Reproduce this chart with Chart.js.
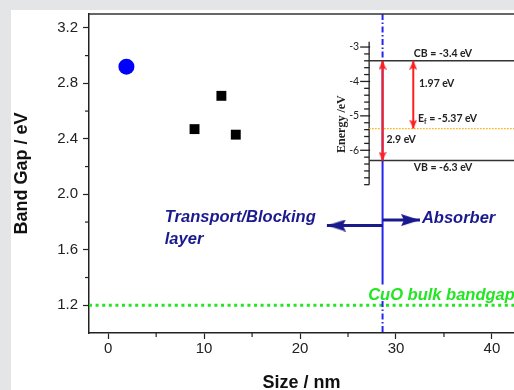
<!DOCTYPE html>
<html>
<head>
<meta charset="utf-8">
<script src="https://cdn.jsdelivr.net/npm/chart.js@4.4.1/dist/chart.umd.min.js"></script>
<style>
html, body { margin: 0; padding: 0; background: #e4e5e7; }
#wrap { position: absolute; left: 11px; top: 10px; width: 503px; height: 380px; background: #fff; }
</style>
</head>
<body>
<div id="wrap"><canvas id="chart" width="503" height="380"></canvas></div>
<script>
//Axis ranges and ticks.
const xRange = [-2, 42.3];
const yRange = [1.0, 3.3];
const eRange = [-11.31, -2.04];//energy scale of the inset, shares the plot height
const xTicks = [0, 10, 20, 30, 40];
const xMinor = [5, 15, 25, 35];
const yTicks = [1.2, 1.6, 2.0, 2.4, 2.8, 3.2];
const yMinor = [1.4, 1.8, 2.2, 2.6, 3.0];

//Measured points: thin film (blue circle) and nanoparticles (black squares).
const filmSize = [1.9];
const filmGap = [2.92];
const particleSize = [9.0, 11.8, 13.3];
const particleGap = [2.47, 2.71, 2.43];

//Bulk band gap and the size boundary between the two regimes.
const bulkGap = 1.2;
const boundarySize = 28.6;
const boundaryTopDash = [3.3, 2.96];
const boundarySolid = [2.96, 1.35];
const boundaryLowDash = [1.23, 1.0];

//Inset band diagram.
const insetAxisX = 27.2;
const insetAxisSpan = [-2.85, -7.0];
const energyTicks = [-3, -4, -5, -6];
const energyMinor = [-3.2, -3.4, -3.6, -3.8, -4.2, -4.4, -4.6, -4.8, -5.2, -5.4, -5.6, -5.8, -6.2, -6.4, -6.6, -6.8, -7.0];
const levelNames = ['CB', 'Ef', 'VB'];
const levelEnergy = [-3.4, -5.37, -6.3];
const gapArrowX = [boundarySize, 31.8];//2.9 eV arrow (CB-VB) and 1.97 eV arrow (CB-Ef)
const gapLabels = ['2.9 eV', '1.97 eV'];

//Regime arrows.
const leftArrowY = 1.775, leftArrowTip = 22.8;
const rightArrowY = 1.814, rightArrowTip = 32.5;

const navy = '#1a1a8e';
const sans = '"Liberation Sans", Arial, sans-serif';
const insetFont = 'Lato, "Liberation Sans", sans-serif';

//Arrow head drawn to a small canvas. The canvas is twice the head length so its centre is the tip, pointing right.
function makeHead(len, half, notch, color) {
    const c = document.createElement('canvas');
    c.width = len * 2;
    c.height = half * 2;
    const g = c.getContext('2d');
    g.fillStyle = color;
    g.beginPath();
    g.moveTo(len, half);
    g.lineTo(0, 0);
    g.lineTo(notch, half);
    g.lineTo(0, half * 2);
    g.closePath();
    g.fill();
    return c;
}
const navyHead = makeHead(19, 6, 3, navy);
const redHead = makeHead(9, 4, 2, '#ff1e1e');

function seg(x0, y0, x1, y1) { return [{x: x0, y: y0}, {x: x1, y: y1}]; }

//Text placed in data coordinates.
const noteFont = 'italic bold 16.5px ' + sans;
const notes = [
    {text: 'Transport/Blocking', x: 5.9, y: 1.833, axis: 'y', font: noteFont, color: navy},
    {text: 'layer', x: 5.9, y: 1.675, axis: 'y', font: noteFont, color: navy},
    {text: 'Absorber', x: 32.7, y: 1.826, axis: 'y', font: noteFont, color: navy},
    {text: 'CuO bulk bandgap', x: 27.1, y: 1.272, axis: 'y', font: noteFont, color: '#22e622'},
    {text: levelNames[0] + ' = ' + levelEnergy[0] + ' eV', x: 34.9, y: -3.2, axis: 'yE', font: 'bold 10.5px ' + insetFont, color: '#222', align: 'center'},
    {text: levelNames[2] + ' = ' + levelEnergy[2] + ' eV', x: 34.9, y: -6.49, axis: 'yE', font: 'bold 10.5px ' + insetFont, color: '#222', align: 'center'},
    {text: gapLabels[1], x: 32.4, y: -4.05, axis: 'yE', font: 'bold 10.5px ' + insetFont, color: '#222'},
    {text: gapLabels[0], x: 29.0, y: -5.7, axis: 'yE', font: 'bold 10.5px ' + insetFont, color: '#222'},
    {text: 'E', sub: 'f', rest: ' = ' + levelEnergy[1] + ' eV', x: 32.3, y: -5.09, axis: 'yE', font: 'bold 10.5px ' + insetFont, color: '#222'}
];

//Plugin for the frame, minor ticks, inset axis ticks and all the text.
const decorPlugin = {
    id: 'decor',
    afterDraw(chart) {
        const {ctx, chartArea: a, scales} = chart;
        const x = scales.x, y = scales.y, yE = scales.yE;
        function line(x0, y0, x1, y1) { ctx.beginPath(); ctx.moveTo(x0, y0); ctx.lineTo(x1, y1); ctx.stroke(); }
        ctx.save();
        ctx.strokeStyle = '#333';
        ctx.lineWidth = 1.5;
        line(a.left, a.top, a.right, a.top);

        ctx.strokeStyle = '#222';
        ctx.lineWidth = 1.2;
        xMinor.forEach(v => { const p = x.getPixelForValue(v); line(p, a.bottom, p, a.bottom + 4); });
        yMinor.forEach(v => { const p = y.getPixelForValue(v); line(a.left - 4, p, a.left, p); });

        //inset energy axis ticks and labels
        const ix = x.getPixelForValue(insetAxisX);
        ctx.lineWidth = 1.3;
        energyTicks.forEach(v => { const p = yE.getPixelForValue(v); line(ix - 9, p, ix + 1, p); });
        energyMinor.forEach(v => { const p = yE.getPixelForValue(v); line(ix - 5, p, ix, p); });
        ctx.fillStyle = '#222';
        ctx.font = '10.5px ' + insetFont;
        ctx.textAlign = 'right';
        ctx.textBaseline = 'middle';
        energyTicks.forEach(v => ctx.fillText(String(v), ix - 10, yE.getPixelForValue(v)));

        ctx.save();
        ctx.translate(x.getPixelForValue(24.4), yE.getPixelForValue(-5.24));
        ctx.rotate(-Math.PI / 2);
        ctx.textAlign = 'center';
        ctx.font = 'bold 12px "Liberation Serif", serif';
        ctx.fillText('Energy /eV', 0, 0);
        ctx.restore();

        notes.forEach(n => {
            const px = x.getPixelForValue(n.x);
            const py = scales[n.axis].getPixelForValue(n.y);
            ctx.font = n.font;
            ctx.fillStyle = n.color;
            ctx.textAlign = n.align || 'left';
            ctx.textBaseline = 'middle';
            if (n.sub) {
                ctx.textAlign = 'left';
                ctx.fillText(n.text, px, py);
                let cx = px + ctx.measureText(n.text).width;
                ctx.font = 'bold 7px ' + insetFont;
                ctx.fillText(n.sub, cx, py + 3);
                cx += ctx.measureText(n.sub).width;
                ctx.font = n.font;
                ctx.fillText(n.rest, cx, py);
            } else {
                ctx.fillText(n.text, px, py);
            }
        });
        ctx.restore();
    }
};

const ctx = document.getElementById('chart').getContext('2d');
const chart = new Chart(ctx, {
    type: 'scatter',
    data: {
        datasets: [
            {data: filmSize.map((s, i) => ({x: s, y: filmGap[i]})), pointStyle: 'circle', pointRadius: 8,
                backgroundColor: '#0000ff', borderColor: '#0000ff', borderWidth: 0, order: 1},
            {data: particleSize.map((s, i) => ({x: s, y: particleGap[i]})), pointStyle: 'rect', pointRadius: 7,
                backgroundColor: '#000', borderColor: '#000', borderWidth: 0, order: 1},
            //regime arrows
            {data: seg(boundarySize, leftArrowY, leftArrowTip, leftArrowY), showLine: true, borderColor: navy, borderWidth: 3,
                pointStyle: c => c.dataIndex === 1 ? navyHead : 'circle', pointRadius: c => c.dataIndex === 1 ? 3 : 0, pointRotation: 180, order: 2},
            {data: seg(boundarySize, rightArrowY, rightArrowTip, rightArrowY), showLine: true, borderColor: navy, borderWidth: 3,
                pointStyle: c => c.dataIndex === 1 ? navyHead : 'circle', pointRadius: c => c.dataIndex === 1 ? 3 : 0, pointRotation: 0, order: 2},
            //gap arrows of the inset
            {data: seg(gapArrowX[0], levelEnergy[0], gapArrowX[0], levelEnergy[2]), yAxisID: 'yE', showLine: true,
                borderColor: '#ff1e1e', borderWidth: 2, pointStyle: redHead, pointRadius: 3, pointRotation: [-90, 90], order: 3},
            {data: seg(gapArrowX[1], levelEnergy[0], gapArrowX[1], levelEnergy[1]), yAxisID: 'yE', showLine: true,
                borderColor: '#ff1e1e', borderWidth: 2, pointStyle: redHead, pointRadius: 3, pointRotation: [-90, 90], order: 3},
            //band levels
            {data: seg(insetAxisX, levelEnergy[0], xRange[1], levelEnergy[0]), yAxisID: 'yE', showLine: true,
                borderColor: '#333', borderWidth: 1.5, pointRadius: 0, order: 4},
            {data: seg(insetAxisX, levelEnergy[2], xRange[1], levelEnergy[2]), yAxisID: 'yE', showLine: true,
                borderColor: '#333', borderWidth: 1.5, pointRadius: 0, order: 4},
            {data: seg(insetAxisX, levelEnergy[1], xRange[1], levelEnergy[1]), yAxisID: 'yE', showLine: true,
                borderColor: '#ffaa00', borderWidth: 1.3, borderDash: [1.5, 1.5], pointRadius: 0, order: 4},
            {data: seg(insetAxisX, insetAxisSpan[0], insetAxisX, insetAxisSpan[1]), yAxisID: 'yE', showLine: true,
                borderColor: '#222', borderWidth: 1.3, pointRadius: 0, order: 4},
            //size boundary
            {data: seg(boundarySize, boundaryTopDash[0], boundarySize, boundaryTopDash[1]), showLine: true,
                borderColor: '#2525f0', borderWidth: 2, borderDash: [6, 2.5, 1.5, 2.5], pointRadius: 0, order: 5},
            {data: seg(boundarySize, boundarySolid[0], boundarySize, boundarySolid[1]), showLine: true,
                borderColor: '#2525f0', borderWidth: 2, pointRadius: 0, order: 5},
            {data: seg(boundarySize, boundaryLowDash[0], boundarySize, boundaryLowDash[1]), showLine: true,
                borderColor: '#2525f0', borderWidth: 2, borderDash: [6, 2.5, 1.5, 2.5], pointRadius: 0, order: 5},
            //bulk band gap
            {data: seg(xRange[0], bulkGap, xRange[1], bulkGap), showLine: true,
                borderColor: '#22e622', borderWidth: 3, borderDash: [3, 3.6], pointRadius: 0, order: 6}
        ]
    },
    options: {
        responsive: false,
        animation: false,
        layout: {autoPadding: false, padding: {top: 4, right: 0, left: 0, bottom: 0}},
        plugins: {legend: {display: false}, tooltip: {enabled: false}},
        events: [],
        scales: {
            x: {
                type: 'linear', min: xRange[0], max: xRange[1],
                afterBuildTicks: s => { s.ticks = xTicks.map(v => ({value: v})); },
                afterFit: s => { s.height = 57; s.paddingLeft = 0; s.paddingRight = 0; },
                grid: {drawOnChartArea: false, tickLength: 6, tickColor: '#222', tickWidth: 1.2},
                border: {color: '#222', width: 1.5},
                ticks: {font: {family: sans, size: 15}, color: '#222', padding: 1, maxRotation: 0, autoSkip: false},
                title: {display: true, text: 'Size / nm', color: '#111', padding: 0,
                    font: {family: sans, size: 18, weight: 'bold', lineHeight: 0.8}}
            },
            y: {
                type: 'linear', min: yRange[0], max: yRange[1],
                afterBuildTicks: s => { s.ticks = yTicks.map(v => ({value: v})); },
                afterFit: s => { s.width = 78; s.paddingTop = 0; s.paddingBottom = 0; },
                grid: {drawOnChartArea: false, tickLength: 6, tickColor: '#222', tickWidth: 1.2},
                border: {color: '#222', width: 1.5},
                ticks: {font: {family: sans, size: 15}, color: '#222', padding: 5, callback: v => v.toFixed(1)},
                title: {display: true, text: 'Band Gap / eV', color: '#111', padding: 0,
                    font: {family: sans, size: 18, weight: 'bold', lineHeight: 1.2}}
            },
            yE: {type: 'linear', display: false, min: eRange[0], max: eRange[1]}
        }
    },
    plugins: [decorPlugin]
});
</script>
</body>
</html>
